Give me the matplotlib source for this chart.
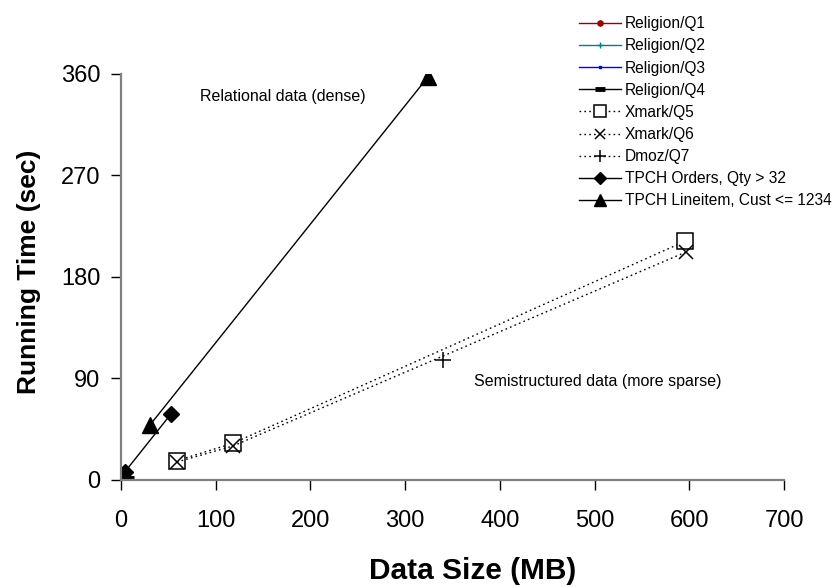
import matplotlib
matplotlib.use("Agg")
import matplotlib.pyplot as plt

plt.rcParams['font.family'] = ['Liberation Sans', 'DejaVu Sans']

# ---- data (MB, seconds) ----
rel_q1_x = [1.5, 3.5, 7.0]
rel_q1_y = [0.2, 0.4, 0.8]
rel_q2_x = [1.5, 3.5, 7.0]
rel_q2_y = [0.3, 0.6, 1.1]
rel_q3_x = [1.5, 3.5, 7.0]
rel_q3_y = [0.2, 0.5, 1.0]
rel_q4_x = [1.5, 3.5, 7.0]
rel_q4_y = [0.4, 0.8, 1.5]
xmark_q5_x = [58.8, 118.0, 596.0]
xmark_q5_y = [16.7, 32.1, 211.7]
xmark_q6_x = [59.0, 118.0, 596.6]
xmark_q6_y = [15.5, 29.7, 202.0]
dmoz_q7_x = [340.0]
dmoz_q7_y = [106.0]
tpch_orders_x = [4.2, 52.8]
tpch_orders_y = [6.9, 58.2]
tpch_line_x = [30.6, 324.0]
tpch_line_y = [48.4, 357.3]

labels = ["Religion/Q1", "Religion/Q2", "Religion/Q3", "Religion/Q4",
          "Xmark/Q5", "Xmark/Q6", "Dmoz/Q7",
          "TPCH Orders, Qty > 32", "TPCH Lineitem, Cust <= 1234"]
xticks = [0, 100, 200, 300, 400, 500, 600, 700]
yticks = [0, 90, 180, 270, 360]

fig = plt.figure(figsize=(8.38, 5.87), dpi=100)
ax = fig.add_axes([121/838, 1-479.5/587, (784-121)/838, (479.5-74)/587])

dot = (0, (1.2, 2.3))
ax.plot(rel_q1_x, rel_q1_y, color='#990000', lw=1, marker='o', ms=5, label=labels[0])
ax.plot(rel_q2_x, rel_q2_y, color='#008080', lw=1, marker='+', ms=6, label=labels[1])
ax.plot(rel_q3_x, rel_q3_y, color='#0000FF', lw=1, marker='s', ms=2.5, label=labels[2])
ax.plot(rel_q4_x, rel_q4_y, color='black', lw=1, marker='_', ms=9, mew=3.5, label=labels[3])
ax.plot(xmark_q5_x, xmark_q5_y, color='black', lw=1, ls=dot, marker='s', ms=11,
        mfc='white', mec='black', mew=1.1, label=labels[4])
ax.plot(xmark_q6_x, xmark_q6_y, color='black', lw=1, ls=dot, marker='x', ms=10,
        mew=1.1, label=labels[5])
ax.plot(dmoz_q7_x, dmoz_q7_y, color='black', lw=1, ls=dot, marker='+', ms=12,
        mew=1.1, label=labels[6])
ax.plot(tpch_orders_x, tpch_orders_y, color='black', lw=1, marker='D', ms=8.5,
        label=labels[7])
ax.plot(tpch_line_x, tpch_line_y, color='black', lw=1, marker='^', ms=11.5,
        label=labels[8])

ax.set_xlim(0, 700)
ax.set_ylim(0, 360)
ax.set_xticks(xticks)
ax.set_yticks(yticks)
ax.tick_params(axis='both', direction='out', length=7, width=1, colors='black',
               labelsize=17)
ax.tick_params(axis='y', pad=8)
ax.tick_params(axis='x', pad=15)
for s in ['top', 'right']:
    ax.spines[s].set_visible(False)
for s in ['left', 'bottom']:
    ax.spines[s].set_color('#808080')
    ax.spines[s].set_linewidth(1.6)
ax.patch.set_alpha(0)

fig.text(473/838, 1-571/587, "Data Size (MB)", fontsize=21.5, fontweight='bold',
         ha='center', va='center')
fig.text(29/838, 1-272/587, "Running Time (sec)", fontsize=19, fontweight='bold',
         ha='center', va='center', rotation=90)

ax.text(171, 339.6, "Relational data (dense)", fontsize=11.5, ha='center', va='center')
ax.text(372.8, 86.6, "Semistructured data (more sparse)", fontsize=11.5, ha='left', va='center')

leg = fig.legend(loc='upper left', bbox_to_anchor=(573/838, 1-10/587), frameon=False,
                 fontsize=11.2, handlelength=2.7, handletextpad=0.25,
                 labelspacing=0.46, markerscale=0.75, borderaxespad=0)

fig.savefig("out.png", dpi=100)
